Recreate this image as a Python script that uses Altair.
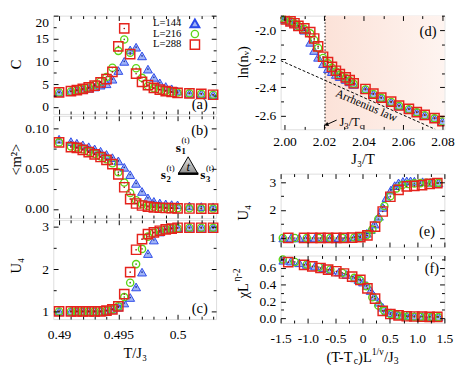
import altair as alt
import pandas as pd

FONT = "Liberation Serif"
BLUE_S, BLUE_F = "#2a48e8", "#9fb3f6"
GREEN = "#5cd616"
RED = "#e5231c"

# ---------------- data: left column (T/J3) ----------------
T_J3 = [0.490, 0.491, 0.4915, 0.492, 0.4925, 0.493, 0.4935, 0.494, 0.4945, 0.495, 0.4955,
        0.496, 0.4965, 0.497, 0.4975, 0.498, 0.4985, 0.499, 0.4995, 0.500, 0.501, 0.502, 0.503]
C_L144 = [3.2, 3.4, 3.6, 3.8, 4.1, 4.4, 4.8, 5.1, 6.1, 8.0, 10.0, 12.5, 13.1, 11.2, 8.3, 6.5, 5.3, 4.5, 4.0, 3.5, 3.0, 2.9, 2.7]
C_L216 = [3.2, 3.4, 3.7, 3.9, 4.3, 4.9, 5.6, 6.6, 8.6, 12.3, 14.8, 11.9, 8.5, 6.4, 4.6, 4.1, 3.8, 3.6, 3.4, 3.2, 3.0, 2.9, 2.7]
C_L288 = [3.2, 3.5, 3.7, 4.0, 4.3, 4.7, 5.4, 6.1, 7.7, 13.3, 17.2, 11.6, 7.3, 5.5, 4.8, 4.2, 3.8, 3.5, 3.3, 3.1, 3.0, 2.9, 2.7]

M2_L144 = [0.087, 0.084, 0.082, 0.080, 0.0776, 0.0749, 0.072, 0.068, 0.064, 0.060, 0.052, 0.0428, 0.032,
           0.022, 0.014, 0.0096, 0.0077, 0.0065, 0.0056, 0.0053, 0.004, 0.0032, 0.0029]
M2_L216 = [0.083, 0.078, 0.0768, 0.0745, 0.0715, 0.0688, 0.0655, 0.062, 0.057, 0.046, 0.033, 0.020, 0.011,
           0.006, 0.004, 0.003, 0.0022, 0.0018, 0.0015, 0.0012, 0.001, 0.0009, 0.0008]
M2_L288 = [0.083, 0.0772, 0.0761, 0.0737, 0.0708, 0.068, 0.0648, 0.0612, 0.056, 0.0432, 0.0272, 0.0125, 0.007,
           0.0045, 0.003, 0.0022, 0.0017, 0.0014, 0.0012, 0.001, 0.0008, 0.0007, 0.0006]

U4_L144 = [1.0, 1.0, 1.0, 1.0, 1.0, 1.0, 1.0, 1.02, 1.05, 1.10, 1.20, 1.33, 1.58, 1.93, 2.37, 2.69, 2.88,
           2.94, 2.97, 2.98, 2.99, 2.99, 2.99]
U4_L216 = [1.0, 1.0, 1.0, 1.0, 1.0, 1.0, 1.0, 1.02, 1.05, 1.12, 1.34, 1.68, 2.12, 2.48, 2.77, 2.86, 2.90,
           2.94, 2.96, 2.97, 2.98, 2.98, 2.98]
U4_L288 = [1.0, 1.0, 1.0, 1.0, 1.0, 1.0, 1.0, 1.02, 1.05, 1.12, 1.41, 1.93, 2.46, 2.71, 2.83, 2.87, 2.91,
           2.94, 2.96, 2.98, 2.98, 2.98, 2.98]

# ---------------- data: panel (d) ----------------
J3_T = [1.998, 2.000, 2.003, 2.005, 2.007, 2.010, 2.013, 2.015, 2.017, 2.0195, 2.022, 2.024, 2.026, 2.028,
        2.031, 2.033, 2.035, 2.041, 2.045, 2.049, 2.054, 2.058, 2.063, 2.067, 2.071, 2.076, 2.080]
LNV_L144 = [-1.914, -1.925, -1.938, -1.953, -1.975, -2.000, -2.085, -2.142, -2.190, -2.235, -2.270, -2.290,
            -2.310, -2.325, -2.345, -2.362, -2.380, -2.415, -2.447, -2.474, -2.503, -2.530, -2.554, -2.576,
            -2.596, -2.618, -2.640]
LNV_L216 = [-1.914, -1.925, -1.938, -1.952, -1.971, -1.992, -2.022, -2.068, -2.125, -2.195, -2.232, -2.263,
            -2.289, -2.313, -2.335, -2.355, -2.376, -2.415, -2.447, -2.474, -2.503, -2.530, -2.554, -2.576,
            -2.596, -2.618, -2.640]
LNV_L288 = [-1.914, -1.925, -1.938, -1.951, -1.969, -1.987, -2.013, -2.058, -2.113, -2.186, -2.224, -2.257,
            -2.284, -2.308, -2.330, -2.350, -2.372, -2.412, -2.445, -2.472, -2.501, -2.528, -2.552, -2.574,
            -2.594, -2.616, -2.638]
JT_C = [2.0205]
ARR_X = [1.998, 2.0764]
ARR_Y = [-2.213, -2.695]

# ---------------- data: panels (e), (f) ----------------
SX_L144 = [-1.45, -1.31, -1.16, -1.02, -0.87, -0.72, -0.58, -0.43, -0.29, -0.14, -0.07, 0.01, 0.08, 0.15,
           0.22, 0.30, 0.37, 0.44, 0.52, 0.59, 0.66, 0.74, 0.81, 0.88, 0.95, 1.10, 1.24, 1.39]
SU4_L144 = [1.0, 1.0, 1.0, 1.0, 1.0, 1.0, 1.0, 1.01, 1.02, 1.04, 1.06, 1.10, 1.17, 1.30, 1.50, 1.78, 2.10,
            2.45, 2.72, 2.88, 2.98, 3.03, 3.05, 3.05, 3.04, 3.02, 3.00, 2.98]
SCHI_L144 = [0.69, 0.68, 0.66, 0.64, 0.62, 0.60, 0.575, 0.55, 0.52, 0.48, 0.46, 0.43, 0.39, 0.33, 0.26, 0.19,
             0.13, 0.09, 0.065, 0.05, 0.04, 0.035, 0.03, 0.027, 0.025, 0.022, 0.02, 0.018]
SX_L216 = [-1.46, -1.24, -1.02, -0.80, -0.59, -0.37, -0.15, -0.04, 0.07, 0.18, 0.29, 0.40, 0.51, 0.62, 0.73,
           0.84, 0.95, 1.06, 1.17, 1.28, 1.39]
SU4_L216 = [1.0, 1.0, 1.0, 1.0, 1.0, 1.0, 1.02, 1.05, 1.10, 1.30, 1.68, 2.15, 2.50, 2.78, 2.90, 2.94, 2.96,
            2.97, 2.98, 2.98, 2.98]
SCHI_L216 = [0.70, 0.67, 0.64, 0.61, 0.58, 0.54, 0.48, 0.45, 0.38, 0.25, 0.15, 0.09, 0.05, 0.035, 0.025, 0.02,
             0.018, 0.016, 0.015, 0.014, 0.013]
SX_L288 = [-1.36, -1.07, -0.92, -0.77, -0.63, -0.48, -0.34, -0.19, -0.04, 0.09, 0.23, 0.37, 0.51, 0.66, 0.81,
           0.95, 1.09, 1.23, 1.37]
SU4_L288 = [1.0, 1.0, 1.0, 1.0, 1.0, 1.0, 1.0, 1.01, 1.03, 1.09, 1.41, 1.95, 2.48, 2.73, 2.85, 2.87, 2.90,
            2.94, 2.97]
SCHI_L288 = [0.667, 0.636, 0.617, 0.598, 0.578, 0.559, 0.532, 0.494, 0.456, 0.356, 0.233, 0.088, 0.05, 0.034,
             0.023, 0.02, 0.019, 0.015, 0.015]

LEGEND_LABELS = ["L=144", "L=216", "L=288"]

# ---------------- helpers ----------------
WID = {'(': 333, ')': 333, 'T': 611, '-': 333, 'L': 611, '1': 500, '/': 278, 'ν': 500, 'J': 389,
       '3': 500, 'c': 444, 'χ': 550, 'η': 500, '2': 500, 's': 389, 't': 278}

TRI_SIZE, CIR_SIZE, SQ_SIZE = 85, 56, 92


def tw(s, size):
    return sum(WID.get(ch, 500) for ch in s) * size / 1000.0


def rich(parts, cx, cy, angle=0, anchor="center"):
    """parts: (text, shift, size, weight)"""
    total = sum(tw(p[0], p[2]) for p in parts)
    pos = -total / 2 if anchor == "center" else 0
    out = []
    for t, sh, sz, wt in parts:
        if angle == 0:
            px, py = cx + pos, cy + sh
        else:
            px, py = cx + sh, cy - pos
        out.append(alt.Chart(pd.DataFrame({"t": [t]})).mark_text(
            align="left", baseline="middle", angle=angle, font=FONT, fontSize=sz,
            fontWeight=wt, color="black").encode(text="t:N", x=alt.value(px), y=alt.value(py)))
        pos += tw(t, sz)
    return out


def text_at(t, x, y, size=15, **kw):
    return alt.Chart(pd.DataFrame({"t": [t]})).mark_text(
        font=FONT, fontSize=size, color="black", **kw).encode(
        text="t:N", x=alt.value(x), y=alt.value(y))


def maj_axis(orient, values, span, labels=True, title=None, **kw):
    args = dict(orient=orient, values=values, grid=True, gridDash=[5, span - 10, 5, 3000],
                gridColor="black", gridOpacity=1, gridWidth=1, ticks=False, domain=False,
                labels=labels, title=title, zindex=1, labelFont=FONT, labelFontSize=14,
                labelColor="black", titleFont=FONT, titleFontSize=15, titleFontWeight="normal",
                titleColor="black", minExtent=0, labelOverlap=False, labelFlush=False)
    args.update(kw)
    return alt.Axis(**args)


def min_axis(orient, values, span):
    return alt.Axis(orient=orient, values=values, grid=True, gridDash=[3, span - 6, 3, 3000],
                    gridColor="black", gridOpacity=1, gridWidth=1, ticks=False, domain=False,
                    labels=False, title=None, zindex=1, minExtent=0, maxExtent=0, offset=0)


def ytitle(t, ty):
    return dict(title=t, titleX=-39, titleY=ty, titleAngle=270, titleBaseline="middle",
                titleAlign="center")


def markers(xb, yb, xg, yg, xr, yr, X, Y, clip=False):
    db = pd.DataFrame({"x": xb, "y": yb})
    dg = pd.DataFrame({"x": xg, "y": yg})
    dr = pd.DataFrame({"x": xr, "y": yr})
    tri = alt.Chart(db).mark_point(shape="triangle-up", size=TRI_SIZE, filled=True, fill=BLUE_F,
                                   stroke=BLUE_S, strokeWidth=1, opacity=1, clip=clip).encode(x=X, y=Y)
    cir = alt.Chart(dg).mark_point(shape="circle", size=CIR_SIZE, filled=False, stroke=GREEN,
                                   strokeWidth=1.4, opacity=1, clip=clip).encode(x=X, y=Y)
    sq = alt.Chart(dr).mark_point(shape="square", size=SQ_SIZE, filled=False, stroke=RED,
                                  strokeWidth=1.5, opacity=1, clip=clip).encode(x=X, y=Y)
    dots = []
    for d, col in [(db, "#1a2f9a"), (dg, "#3a8a10"), (dr, "#a01510")]:
        dots.append(alt.Chart(d).mark_point(shape="circle", size=3, filled=True, color=col,
                                            opacity=1, clip=clip).encode(x=X, y=Y))
    return [tri, dots[0], cir, dots[1], sq, dots[2]]


def minor_layer(xs, ys, xsc, ysc, xmin, ymin, W, H):
    d = pd.DataFrame({"x": xs, "y": ys})
    return alt.Chart(d).mark_point(opacity=0).encode(
        x=alt.X("x:Q", scale=xsc, axis=min_axis("top", xmin, H)),
        y=alt.Y("y:Q", scale=ysc, axis=min_axis("right", ymin, W)))


def panel(main, minor, W, H):
    return alt.layer(alt.layer(*main), minor).resolve_axis(
        x="independent", y="independent").properties(width=W, height=H)


# ---------------- left column ----------------
WL = 169
HA, HB, HC = 102, 106, 103
xl_sc = alt.Scale(domain=[0.48951, 0.50325], nice=False, zero=False)
XL_MAJ = [0.49, 0.495, 0.5]
XL_MIN = [0.491, 0.492, 0.493, 0.494, 0.496, 0.497, 0.498, 0.499, 0.501, 0.502, 0.503]

# (a)
ya_sc = alt.Scale(domain=[-1.5, 20], nice=False, zero=False)
Xa = alt.X("x:Q", scale=xl_sc, axis=maj_axis("bottom", XL_MAJ, HA, labels=False))
Ya = alt.Y("y:Q", scale=ya_sc, axis=maj_axis("left", [0, 5, 10, 15, 20], WL, labelPadding=5,
                                               labelFlush=True, **ytitle("C", 50)))
a_layers = markers(T_J3, C_L144, T_J3, C_L216, T_J3, C_L288, Xa, Ya)
for i, lab in enumerate(LEGEND_LABELS):
    a_layers.append(text_at(lab, 133, 8 + 11 * i, size=11, align="right", baseline="middle"))
a_layers.append(alt.Chart(pd.DataFrame({"t": [0]})).mark_point(
    shape="triangle-up", size=TRI_SIZE, filled=True, fill=BLUE_F, stroke=BLUE_S, opacity=1).encode(
    x=alt.value(147), y=alt.value(8)))
a_layers.append(alt.Chart(pd.DataFrame({"t": [0]})).mark_point(
    shape="circle", size=CIR_SIZE, filled=False, stroke=GREEN, strokeWidth=1.4, opacity=1).encode(
    x=alt.value(147), y=alt.value(19)))
a_layers.append(alt.Chart(pd.DataFrame({"t": [0]})).mark_point(
    shape="square", size=SQ_SIZE, filled=False, stroke=RED, strokeWidth=1.5, opacity=1).encode(
    x=alt.value(147), y=alt.value(30)))
a_layers.append(text_at("(a)", 152, HA - 10))
pa = panel(a_layers, minor_layer(T_J3, C_L288, xl_sc, ya_sc, XL_MIN, [2.5, 7.5, 12.5, 17.5], WL, HA), WL, HA)

# (b)
yb_sc = alt.Scale(domain=[-0.011, 0.116], nice=False, zero=False)
Xb = alt.X("x:Q", scale=xl_sc, axis=maj_axis("bottom", XL_MAJ, HB, labels=False))
Yb = alt.Y("y:Q", scale=yb_sc, axis=maj_axis("left", [0, 0.05, 0.1], WL, labelPadding=5,
                                               **ytitle("<m²>", 45)))
b_layers = markers(T_J3, M2_L144, T_J3, M2_L216, T_J3, M2_L288, Xb, Yb)
b_layers.append(text_at("(b)", 152, 15))
tri_grad = alt.Gradient(gradient="linear", stops=[alt.GradientStop(color="#e6e6e6", offset=0),
                                                  alt.GradientStop(color="#8a8a8a", offset=1)],
                        x1=0, x2=0, y1=0, y2=1)
b_layers.append(alt.Chart(pd.DataFrame({"t": [0]})).mark_point(
    shape="triangle-up", size=430, filled=True, fill=tri_grad, stroke="black", strokeWidth=1,
    opacity=1).encode(x=alt.value(140), y=alt.value(51.5)))
b_layers.append(alt.Chart(pd.DataFrame({"t": [0]})).mark_rule(color="black", strokeWidth=2.5).encode(
    x=alt.value(129.5), x2=alt.value(150.5), y=alt.value(60)))
b_layers.append(text_at("t", 140, 53, size=13, fontStyle="italic", baseline="middle"))
for sx, sy, sub in [(127, 33, "1"), (111.5, 62, "2"), (152.5, 62, "3")]:
    b_layers.append(text_at("s", sx, sy, size=14, fontWeight="bold", align="left", baseline="middle"))
    b_layers.append(text_at(sub, sx + 6, sy + 4, size=9, fontWeight="bold", align="left", baseline="middle"))
    b_layers.append(text_at("(t)", sx + 6, sy - 8, size=9, align="left", baseline="middle"))
pb = panel(b_layers, minor_layer(T_J3, M2_L288, xl_sc, yb_sc, XL_MIN, [0.025, 0.075], WL, HB), WL, HB)

# (c)
yc_sc = alt.Scale(domain=[0.818, 3.166], nice=False, zero=False)
Xc = alt.X("x:Q", scale=xl_sc, axis=maj_axis("bottom", XL_MAJ, HC, labelPadding=9, title="T/J₃",
                                               titlePadding=5, format="~g"))
Yc = alt.Y("y:Q", scale=yc_sc, axis=maj_axis("left", [1, 2, 3], WL, labelPadding=5,
                                               **ytitle("U₄", 47)))
c_layers = markers(T_J3, U4_L144, T_J3, U4_L216, T_J3, U4_L288, Xc, Yc)
c_layers.append(text_at("(c)", 152, HC - 11))
pc = panel(c_layers, minor_layer(T_J3, U4_L288, xl_sc, yc_sc, XL_MIN, [1.5, 2.5], WL, HC), WL, HC)

left = alt.vconcat(pa, pb, pc, spacing=0)

# ---------------- right column ----------------
WR = 170
HD, HE, HF = 118, 76, 70

# (d)
xd_sc = alt.Scale(domain=[1.998, 2.081], nice=False, zero=False)
yd_sc = alt.Scale(domain=[-2.695, -1.898], nice=False, zero=False)
Xd = alt.X("x:Q", scale=xd_sc, axis=maj_axis("bottom", [2.00, 2.02, 2.04, 2.06, 2.08], HD,
                                               format=".2f", labelPadding=6, title="J₃/T",
                                               titlePadding=3))
Yd = alt.Y("y:Q", scale=yd_sc, axis=maj_axis("left", [-2.0, -2.2, -2.4, -2.6], WR, labelPadding=5,
                                               labelExpr="replace(format(datum.value, '.1f'), '−', '-')",
                                               **ytitle("ln(nᵥ)", 48)))
shade = alt.Gradient(gradient="linear", stops=[alt.GradientStop(color="#fce2d8", offset=0),
                                               alt.GradientStop(color="#fef4f0", offset=1)],
                     x1=0, x2=1, y1=0, y2=0)
d_layers = [
    alt.Chart(pd.DataFrame({"x": JT_C, "x2": [2.081]})).mark_rect(fill=shade).encode(
        x=Xd, x2="x2:Q", y=alt.value(0), y2=alt.value(HD)),
    alt.Chart(pd.DataFrame({"x": JT_C})).mark_rule(color="black", strokeDash=[1.5, 2], strokeWidth=1).encode(x=Xd),
    alt.Chart(pd.DataFrame({"x": ARR_X, "y": ARR_Y})).mark_line(
        color="black", strokeDash=[3, 2], strokeWidth=1, clip=True).encode(x=Xd, y=Yd),
]
d_layers += markers(J3_T, LNV_L144, J3_T, LNV_L216, J3_T, LNV_L288, Xd, Yd, clip=True)
d_layers.append(alt.Chart(pd.DataFrame({"x": [2.0415], "y": [-2.527], "t": ["Arrhenius law"]})).mark_text(
    font=FONT, fontSize=12, angle=23, color="black").encode(x=Xd, y=Yd, text="t:N"))
d_layers.append(alt.Chart(pd.DataFrame({"x": [2.0264, 2.0213], "y": [-2.63, -2.662]})).mark_line(
    color="black", strokeWidth=1).encode(x=Xd, y=Yd))
d_layers.append(alt.Chart(pd.DataFrame({"x": [2.0212], "y": [-2.663]})).mark_point(
    shape="triangle-up", size=22, filled=True, color="black", opacity=1, angle=246).encode(x=Xd, y=Yd))


def dpx(v):
    return (v - 1.998) / (2.081 - 1.998) * WR


def dpy(v):
    return (-1.898 - v) / (-1.898 + 2.695) * HD


d_layers += rich([("J", 0, 13, "normal"), ("3", 4, 9, "normal"), ("/T", 0, 13, "normal"),
                  ("c", 4, 9, "normal")], dpx(2.0278), dpy(-2.645), anchor="left")
d_layers.append(text_at("(d)", 153, 16))
pd_ = panel(d_layers, minor_layer(J3_T, LNV_L288, xd_sc, yd_sc, [2.01, 2.03, 2.05, 2.07],
                                  [-1.9, -2.1, -2.3, -2.5], WR, HD), WR, HD)

# (e)
xs_sc = alt.Scale(domain=[-1.5, 1.5], nice=False, zero=False)
XS_MAJ = [-1.5, -1.0, -0.5, 0, 0.5, 1.0, 1.5]
XS_MIN = [-1.25, -0.75, -0.25, 0.25, 0.75, 1.25]
ye_sc = alt.Scale(domain=[0.68, 3.31], nice=False, zero=False)
Xe = alt.X("x:Q", scale=xs_sc, axis=maj_axis("bottom", XS_MAJ, HE, labels=False))
Ye = alt.Y("y:Q", scale=ye_sc, axis=maj_axis("left", [1, 2, 3], WR, labelPadding=5, **ytitle("U₄", 40)))
e_layers = markers(SX_L144, SU4_L144, SX_L216, SU4_L216, SX_L288, SU4_L288, Xe, Ye)
e_layers.append(text_at("(e)", 152, HE - 16))
pe = panel(e_layers, minor_layer(SX_L288, SU4_L288, xs_sc, ye_sc, XS_MIN, [1.5, 2.5], WR, HE), WR, HE)

# (f)
yf_sc = alt.Scale(domain=[-0.057, 0.746], nice=False, zero=False)
Xf = alt.X("x:Q", scale=xs_sc, axis=maj_axis(
    "bottom", XS_MAJ, HF, labelPadding=9,
    labelExpr="datum.value == 0 ? '0' : replace(format(datum.value, '.1f'), '−', '-')"))
Yf = alt.Y("y:Q", scale=yf_sc, axis=maj_axis("left", [0, 0.2, 0.4, 0.6], WR, labelPadding=5))
f_layers = markers(SX_L144, SCHI_L144, SX_L216, SCHI_L216, SX_L288, SCHI_L288, Xf, Yf)
f_layers.append(text_at("(f)", 157, 13))
f_layers += rich([("(T-T", 0, 15, "normal"), ("c", 4, 10, "normal"), (")L", 0, 15, "normal"),
                  ("1/ν", -6, 10, "normal"), ("/J", 0, 15, "normal"), ("3", 4, 10, "normal")],
                 WR / 2, HF + 36)
f_layers += rich([("χL", 0, 15, "normal"), ("η-2", -6, 10, "normal")], -39, 29, angle=270)
pf = panel(f_layers, minor_layer(SX_L288, SCHI_L288, xs_sc, yf_sc, XS_MIN, [0.1, 0.3, 0.5, 0.7], WR, HF),
           WR, HF)

right = alt.vconcat(pd_, alt.vconcat(pe, pf, spacing=4), spacing=6)

chart = alt.hconcat(left, right, spacing=10).properties(padding=0).configure_view(
    stroke="black", strokeWidth=1).configure(background="white")

chart.save("out.html", embed_options={"renderer": "svg", "actions": False})
